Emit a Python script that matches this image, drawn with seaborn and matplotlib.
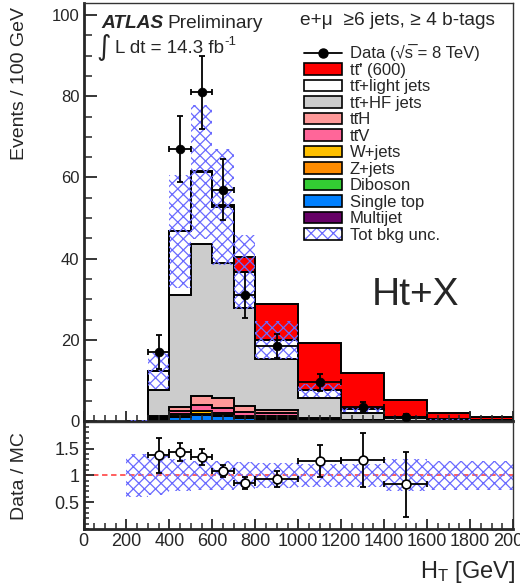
import matplotlib
matplotlib.use("Agg")
import matplotlib.pyplot as plt
import seaborn as sns
import pandas as pd
import numpy as np
from matplotlib.patches import Patch
from matplotlib.lines import Line2D
from matplotlib.ticker import MultipleLocator

# bin edges (GeV)
edges = [200, 300, 400, 500, 600, 700, 800, 1000, 1200, 1400, 1600, 1800, 2000]

# background components (events / 100 GeV), stacked bottom -> top
multijet   = [0, 0.05, 0.1, 0.1, 0.1, 0.05, 0.05, 0.02, 0, 0, 0, 0]
single_top = [0, 0.4, 0.8, 1.4, 1.1, 0.6, 0.45, 0.15, 0.05, 0.02, 0, 0]
diboson    = [0, 0, 0.02, 0.03, 0.02, 0.02, 0.02, 0.01, 0, 0, 0, 0]
z_jets     = [0, 0.1, 0.2, 0.3, 0.3, 0.25, 0.3, 0.1, 0.03, 0, 0, 0]
w_jets     = [0, 0.2, 0.5, 0.7, 0.5, 0.3, 0.45, 0.1, 0.03, 0, 0, 0]
ttv        = [0, 0.25, 0.8, 1.3, 1.1, 1.0, 0.6, 0.15, 0.05, 0.02, 0, 0]
tth        = [0, 0.35, 1.1, 2.4, 2.5, 1.6, 0.8, 0.2, 0.08, 0.03, 0.01, 0]
tt_hf      = [0.05, 6.35, 27.5, 37.5, 33.3, 24.0, 12.6, 4.9, 1.75, 0.63, 0.29, 0.15]
tt_light   = [0.05, 4.7, 15.7, 17.6, 13.8, 8.9, 4.7, 1.9, 0.9, 0.3, 0.1, 0.05]
signal     = [0, 0, 0.1, 0.3, 0.6, 3.8, 8.8, 11.7, 9.0, 4.2, 1.6, 0.7]

# relative total background uncertainty per bin
rel_unc = [0.40, 0.36, 0.30, 0.27, 0.27, 0.25, 0.23, 0.21, 0.22, 0.30, 0.27, 0.27]

# data
data_x    = [350, 450, 550, 650, 750, 900, 1100, 1300, 1500]
data_xerr = [50, 50, 50, 50, 50, 100, 100, 100, 100]
data_y    = [17, 67, 81, 57, 31, 18.5, 9.5, 3.5, 1.0]
data_yerr = [4.1, 8.2, 9.0, 7.5, 5.6, 3.0, 2.2, 1.3, 0.7]

# data / MC
ratio_y    = [1.37, 1.44, 1.34, 1.08, 0.85, 0.93, 1.26, 1.29, 0.83]
ratio_yerr = [0.33, 0.17, 0.15, 0.12, 0.11, 0.155, 0.30, 0.50, 0.60]

TTB = "tt\u0304"  # t t-bar
components = [
    ("Multijet", multijet, "#660066"),
    ("Single top", single_top, "#0080ff"),
    ("Diboson", diboson, "#33cc33"),
    ("Z+jets", z_jets, "#ff8c00"),
    ("W+jets", w_jets, "#ffc000"),
    (TTB + "V", ttv, "#ff6699"),
    (TTB + "H", tth, "#ff9999"),
    (TTB + "+HF jets", tt_hf, "#cccccc"),
    (TTB + "+light jets", tt_light, "#ffffff"),
]
hatch_col = "#6a6aff"

sns.set_style("ticks")
plt.rcParams['font.family'] = ['Liberation Sans', 'DejaVu Sans']
plt.rcParams['mathtext.fontset'] = 'custom'
plt.rcParams['mathtext.rm'] = 'Liberation Sans'
plt.rcParams['mathtext.it'] = 'Liberation Sans:italic'
plt.rcParams['mathtext.bf'] = 'Liberation Sans:bold'
plt.rcParams['hatch.linewidth'] = 0.9

fig = plt.figure(figsize=(5.2, 5.84), dpi=100)
ax = fig.add_axes([0.1606, 0.2791, 0.826, 0.7158])
rax = fig.add_axes([0.1606, 0.0942, 0.826, 0.1837])

edges_a = np.array(edges, dtype=float)

# stacked backgrounds
df = pd.DataFrame({name: vals for name, vals, _ in components})
cum = df.cumsum(axis=1)
base = np.zeros(len(edges) - 1)
for name, vals, col in components:
    top = cum[name].values
    ax.stairs(top, edges_a, baseline=base, fill=True, color=col, zorder=1)
    base = top
total_bkg = base.copy()
ax.stairs(total_bkg + np.array(signal), edges_a, baseline=total_bkg, fill=True,
          color="#ff0000", zorder=1)

# outlines
for name, vals, col in components:
    ax.stairs(cum[name].values, edges_a, baseline=0, color="black", lw=1.4, zorder=2)
ax.stairs(total_bkg + np.array(signal), edges_a, baseline=0, color="black", lw=1.4, zorder=2)

# uncertainty band
unc = total_bkg * np.array(rel_unc)
ax.stairs(total_bkg + unc, edges_a, baseline=total_bkg - unc, fill=True,
          facecolor="none", edgecolor=hatch_col, hatch="xxx", lw=0, zorder=3)

# data points
ax.errorbar(data_x, data_y, xerr=data_xerr, yerr=data_yerr, fmt="none",
            ecolor="black", elinewidth=1.3, capsize=2, capthick=1.3, zorder=4)
sns.scatterplot(x=data_x, y=data_y, color="black", s=40, edgecolor="black",
                ax=ax, zorder=5, legend=False)

ax.set_xlim(0, 2000)
ax.set_ylim(0, 103)
ax.yaxis.set_major_locator(MultipleLocator(20))
ax.yaxis.set_minor_locator(MultipleLocator(5))
ax.xaxis.set_major_locator(MultipleLocator(200))
ax.xaxis.set_minor_locator(MultipleLocator(50))
ax.tick_params(axis="y", which="major", direction="in", length=9.5, width=1.3, labelsize=12, pad=3)
ax.tick_params(axis="y", which="minor", direction="in", length=5.5, width=1.1)
ax.tick_params(axis="x", which="major", direction="in", length=7, width=1.3, labelbottom=False)
ax.tick_params(axis="x", which="minor", direction="in", length=4, width=1.1)
ax.set_xlabel("")
ax.set_ylabel("")

# legend
handles = [Line2D([0], [0], color="black", marker="o", markersize=6.5, lw=1.3),
           Patch(facecolor="#ff0000", edgecolor="black", lw=1.2)]
labels = ["Data (\u221as\u0305 = 8 TeV)", TTB + "' (600)"]
for name, vals, col in components[::-1]:
    handles.append(Patch(facecolor=col, edgecolor="black", lw=1.2))
    labels.append(name)
handles.append((Patch(facecolor="white", edgecolor=hatch_col, hatch="xxx", lw=0),
                Patch(fill=False, edgecolor="black", lw=1.2)))
labels.append("Tot bkg unc.")
fig.legend(handles, labels, loc="upper left", bbox_to_anchor=(304 / 520, 1 - 44.5 / 584),
           frameon=False, fontsize=12, borderpad=0, borderaxespad=0,
           handlelength=2.3, handleheight=0.66, handletextpad=0.45, labelspacing=0.09)

# ratio panel
rax.stairs(1 + np.array(rel_unc), edges_a, baseline=1 - np.array(rel_unc), fill=True,
           facecolor="none", edgecolor=hatch_col, hatch="xxx", lw=0, zorder=2)
rax.plot([0, 2000], [1, 1], color="#ff5050", ls=(0, (3, 2)), lw=1.3, zorder=1)
rax.errorbar(data_x, ratio_y, xerr=data_xerr, yerr=ratio_yerr, fmt="none",
             ecolor="black", elinewidth=1.3, capsize=2, capthick=1.3, zorder=4)
sns.scatterplot(x=data_x, y=ratio_y, color="white", s=40, edgecolor="black",
                linewidth=1.2, ax=rax, zorder=5, legend=False)
rax.set_xlim(0, 2000)
rax.set_ylim(0, 2)
rax.set_yticks([0.5, 1, 1.5])
rax.set_yticklabels(["0.5", "1", "1.5"])
rax.yaxis.set_minor_locator(MultipleLocator(0.1))
rax.xaxis.set_major_locator(MultipleLocator(200))
rax.xaxis.set_minor_locator(MultipleLocator(50))
rax.tick_params(axis="y", which="major", direction="in", length=7, width=1.3, labelsize=13, pad=3)
rax.tick_params(axis="y", which="minor", direction="in", length=3.5, width=1.1)
rax.tick_params(axis="x", which="major", direction="in", length=7, width=1.3, labelsize=13, pad=3)
rax.tick_params(axis="x", which="minor", direction="in", length=4, width=1.1)
rax.set_xlabel("")
rax.set_ylabel("")

for a in (ax, rax):
    a.spines["left"].set_linewidth(2)
    a.spines["bottom"].set_linewidth(2)
    a.spines["top"].set_linewidth(1)
    a.spines["right"].set_linewidth(1)
    a.spines["top"].set_color("#333333")
    a.spines["right"].set_color("#333333")
    a.set_axisbelow(False)

# texts
fig.text(101 / 520, 1 - 28.3 / 584, "ATLAS", fontsize=13.8, fontweight="bold",
         fontstyle="italic", va="baseline")
fig.text(167 / 520, 1 - 28.3 / 584, "Preliminary", fontsize=13.8, va="baseline")
fig.text(96 / 520, 1 - 55 / 584, "∫", fontsize=20, va="baseline", family=["DejaVu Sans"])
fig.text(115 / 520, 1 - 53 / 584, "L dt = 14.3 fb", fontsize=13.5, va="baseline")
fig.text(224 / 520, 1 - 45 / 584, "-1", fontsize=9.5, va="baseline")
fig.text(300 / 520, 1 - 25 / 584, "e+μ  ≥6 jets, ≥ 4 b-tags", fontsize=13.8, va="baseline")
fig.text(372 / 520, 1 - 305 / 584, "Ht+X", fontsize=28, va="baseline")
fig.text(20 / 520, 1 - 7 / 584, "Events / 100 GeV", fontsize=14, rotation=90,
         ha="center", va="top")
fig.text(20 / 520, 1 - 432 / 584, "Data / MC", fontsize=14, rotation=90,
         ha="center", va="top")
fig.text(515 / 520, 1 - 578 / 584, r"H$_{\mathregular{T}}$ [GeV]", fontsize=17,
         ha="right", va="baseline")

fig.savefig("out.png", dpi=100)
